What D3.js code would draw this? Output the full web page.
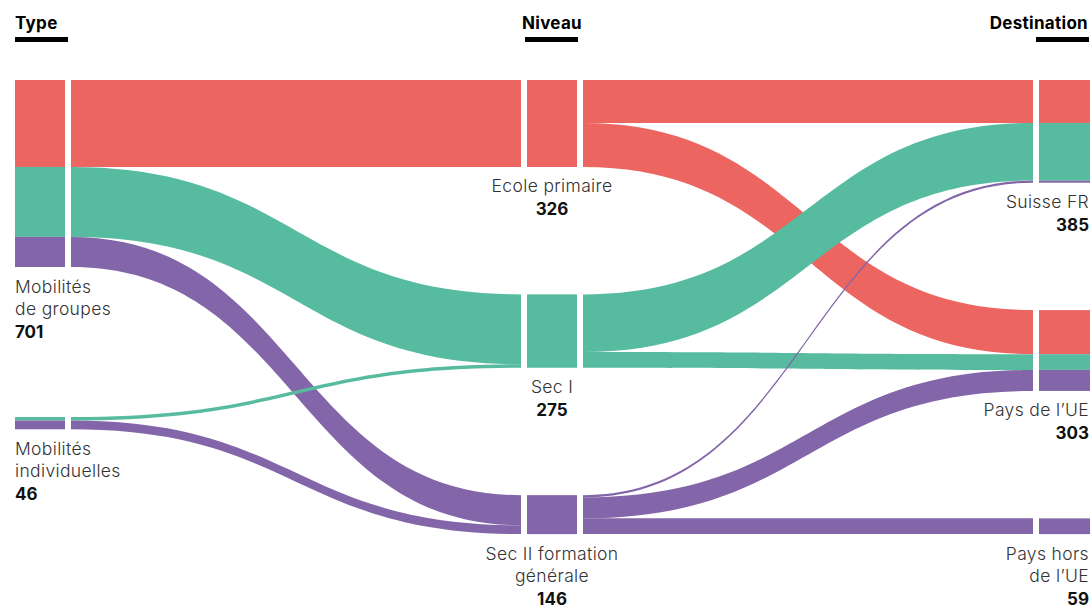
<!DOCTYPE html>
<html>
<head>
<meta charset="utf-8">
<script src="https://cdn.jsdelivr.net/npm/d3@7"></script>
<style>
  body { margin: 0; background: #fff; }
  svg { display: block; font-family: Inter, "Noto Sans", sans-serif; }
</style>
</head>
<body>
<div id="chart"></div>
<script>
// columns and nodes
var columns = ["Type", "Niveau", "Destination"];
var typeNodes = [["Mobilités", "de groupes"], ["Mobilités", "individuelles"]];
var niveauNodes = [["Ecole primaire"], ["Sec I"], ["Sec II formation", "générale"]];
var destNodes = [["Suisse FR"], ["Pays de l’UE"], ["Pays hors", "de l’UE"]];
var niveauColors = ["#ec6561", "#56bb9f", "#8366a9"];

// flows: rows = source, cols = target
var typeToNiveau = [
  [326, 262, 113],
  [0, 13, 33]
];
var niveauToDest = [
  [161, 165, 0],
  [216, 59, 0],
  [8, 79, 59]
];

var width = 1090, height = 607;
var nodeW = 50, gap = 6, topY = 80;
var colPadding = [150, 127.4, 127.4];

var svg = d3.select("#chart").append("svg")
  .attr("width", width)
  .attr("height", height);

var total = d3.sum(typeToNiveau, function (r) { return d3.sum(r); });
var h = d3.scaleLinear().domain([0, total]).range([0, 199.3]);
var x = d3.scalePoint().domain(d3.range(columns.length)).range([15, 1039]);

var nodeValues = [
  typeToNiveau.map(function (r) { return d3.sum(r); }),
  niveauNodes.map(function (n, j) { return d3.sum(typeToNiveau, function (r) { return r[j]; }); }),
  destNodes.map(function (n, j) { return d3.sum(niveauToDest, function (r) { return r[j]; }); })
];
var nodeLines = [typeNodes, niveauNodes, destNodes];

// vertical layout of each column
var nodes = nodeValues.map(function (vals, c) {
  var y = topY;
  return vals.map(function (v, i) {
    var n = { col: c, i: i, value: v, y0: y, y1: y + h(v), lines: nodeLines[c][i], outY: y, inY: y };
    y = n.y1 + colPadding[c];
    return n;
  });
});

// links, stacked in source order at targets and target order at sources
var links = [];
[typeToNiveau, niveauToDest].forEach(function (m, c) {
  m.forEach(function (row, s) {
    row.forEach(function (v, t) {
      if (!v) return;
      links.push({ c: c, s: s, t: t, value: v, color: niveauColors[c === 0 ? t : s] });
    });
  });
});
links.forEach(function (l) {
  var src = nodes[l.c][l.s];
  l.sy0 = src.outY; l.sy1 = src.outY + h(l.value); src.outY = l.sy1;
});
links.slice().sort(function (a, b) { return a.c - b.c || a.t - b.t || a.s - b.s; }).forEach(function (l) {
  var tgt = nodes[l.c + 1][l.t];
  l.ty0 = tgt.inY; l.ty1 = tgt.inY + h(l.value); tgt.inY = l.ty1;
});

function band(l) {
  var x0 = x(l.c) + nodeW + gap, x1 = x(l.c + 1) - gap, xm = (x0 + x1) / 2;
  var p = d3.path();
  p.moveTo(x0, l.sy0);
  p.bezierCurveTo(xm, l.sy0, xm, l.ty0, x1, l.ty0);
  p.lineTo(x1, l.ty1);
  p.bezierCurveTo(xm, l.ty1, xm, l.sy1, x0, l.sy1);
  p.closePath();
  return p.toString();
}

svg.append("g").selectAll("path")
  .data(links)
  .enter().append("path")
  .attr("d", band)
  .attr("fill", function (d) { return d.color; });

// node segments: left nodes split by outgoing, right nodes by incoming, middle solid
var seg = svg.append("g");
links.forEach(function (l) {
  if (l.c === 0) {
    seg.append("rect").attr("x", x(0)).attr("y", l.sy0).attr("width", nodeW)
      .attr("height", l.sy1 - l.sy0).attr("fill", l.color);
  } else {
    seg.append("rect").attr("x", x(2)).attr("y", l.ty0).attr("width", nodeW + 1)
      .attr("height", l.ty1 - l.ty0).attr("fill", l.color);
  }
});
seg.selectAll("rect.mid")
  .data(nodes[1])
  .enter().append("rect")
  .attr("class", "mid")
  .attr("x", x(1)).attr("width", nodeW)
  .attr("y", function (d) { return d.y0; })
  .attr("height", function (d) { return d.y1 - d.y0; })
  .attr("fill", function (d) { return niveauColors[d.i]; });

// labels
var anchors = ["start", "middle", "end"];
function labelX(c) { return c === 0 ? x(0) : c === 1 ? x(1) + nodeW / 2 : x(2) + nodeW; }

var lab = svg.append("g").selectAll("text")
  .data(d3.merge(nodes))
  .enter().append("text")
  .attr("text-anchor", function (d) { return anchors[d.col]; });
lab.each(function (d) {
  var t = d3.select(this);
  d.lines.forEach(function (s, k) {
    t.append("tspan").attr("x", labelX(d.col)).attr("y", d.y1 + 25.5 + k * 22.5)
      .attr("font-size", 17.5).attr("letter-spacing", 0.35)
      .attr("fill", "#333").attr("font-weight", 300).text(s);
  });
  t.append("tspan").attr("x", labelX(d.col)).attr("y", d.y1 + 25.5 + d.lines.length * 22.5)
    .attr("font-size", 17)
    .attr("fill", "#111").attr("font-weight", 700).text(d.value);
});

// column headers
var head = svg.append("g").selectAll("g")
  .data(columns)
  .enter().append("g");
head.append("text")
  .attr("x", function (d, i) { return labelX(i) + (i === 2 ? -1 : 0); })
  .attr("y", 28.5)
  .attr("text-anchor", function (d, i) { return anchors[i]; })
  .attr("font-size", 17)
  .attr("letter-spacing", 0.3)
  .attr("font-weight", 700)
  .attr("fill", "#000")
  .text(function (d) { return d; });
head.append("rect")
  .attr("x", function (d, i) { return i === 0 ? x(0) : i === 1 ? x(1) - 2 : x(2) - 3; })
  .attr("y", 37)
  .attr("width", 53)
  .attr("height", 5)
  .attr("fill", "#000");
</script>
</body>
</html>
